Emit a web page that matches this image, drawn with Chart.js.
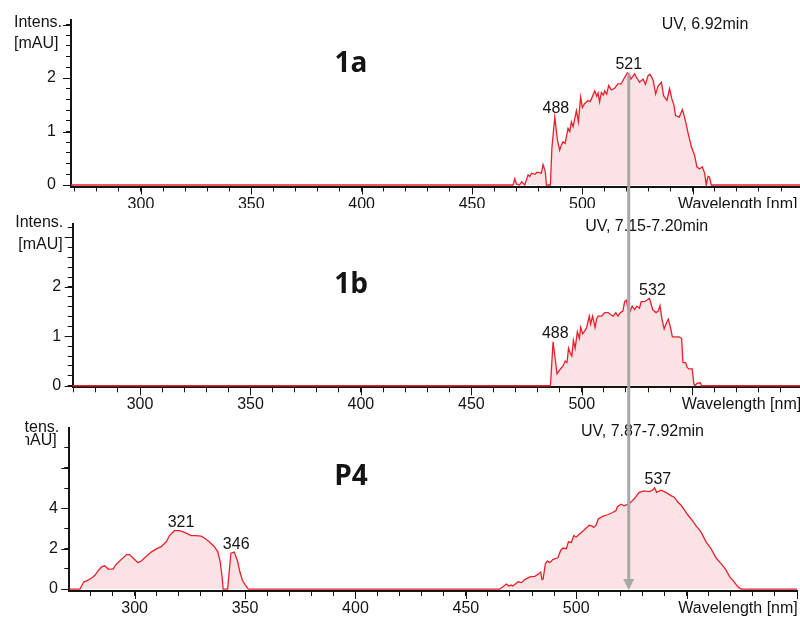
<!DOCTYPE html>
<html><head><meta charset="utf-8">
<script src="https://cdn.jsdelivr.net/npm/chart.js@4.4.0/dist/chart.umd.min.js"></script>
<style>
html,body{margin:0;padding:0;background:#fff;}
#wrap{position:relative;width:800px;height:617px;overflow:hidden;background:#fff;}
canvas{position:absolute;left:0;}
</style></head><body>
<div id="wrap">
<canvas id="c1" width="800" height="220" style="top:0px"></canvas>
<canvas id="c2" width="800" height="222" style="top:208px"></canvas>
<canvas id="c3" width="800" height="205" style="top:412px"></canvas>
</div>
<script>
// ---------- data ----------
const wavelength1a = [268, 468.6, 469.4, 470.1, 471.5, 472.5, 473.9, 475.4, 476.2, 476.9, 478.5, 479.5, 481.4, 482.2, 483.2, 483.7, 485.5, 486.2, 487.5, 488.7, 489.7, 490.5, 491.2, 492.2, 493.5, 494.3, 495.0, 495.8, 497.3, 498.2, 499.2, 500.0, 501.0, 502.5, 503.5, 504.1, 505.6, 506.5, 507.1, 507.8, 508.6, 509.5, 510.1, 511.0, 511.9, 513.1, 514.6, 516.1, 517.6, 519.1, 519.6, 520.4, 521.3, 522.0, 523.7, 524.4, 525.9, 527.5, 528.6, 529.7, 530.6, 531.5, 532.1, 533.2, 534.3, 535.8, 536.8, 538.3, 539.5, 540.6, 541.5, 542.2, 543.9, 545.3, 546.3, 547.8, 549.4, 550.8, 551.9, 553.1, 554.3, 555.4, 556.1, 556.9, 557.6, 558.4, 600];
const intensity1a  = [0, 0, 0.12, 0.02, 0, 0.06, 0, 0.19, 0.16, 0.22, 0.20, 0.24, 0.22, 0.38, 0.25, 0, 0, 0.70, 1.27, 0.84, 0.65, 0.75, 0.81, 0.78, 1.06, 1.00, 1.18, 1.09, 1.39, 1.18, 1.64, 1.45, 1.52, 1.58, 1.56, 1.61, 1.76, 1.66, 1.72, 1.55, 1.73, 1.68, 1.76, 1.70, 1.86, 1.78, 1.81, 1.89, 1.89, 2.01, 2.04, 2.10, 2.07, 1.98, 2.08, 2.02, 1.92, 1.98, 1.88, 2.04, 2.07, 2.01, 1.95, 1.70, 1.85, 1.92, 1.67, 1.58, 1.80, 1.60, 1.49, 1.30, 1.27, 1.41, 1.27, 0.99, 0.71, 0.56, 0.34, 0.30, 0.34, 0.22, 0, 0.16, 0.15, 0, 0];

const wavelength1b = [268, 485.8, 487.0, 488.8, 490.3, 491.5, 492.5, 493.3, 494.0, 494.8, 495.5, 496.2, 497.0, 498.0, 498.9, 499.5, 500.4, 501.5, 502.2, 503.4, 504.0, 504.9, 506.0, 506.7, 507.4, 509.0, 510.4, 511.9, 513.0, 514.2, 515.4, 516.4, 517.5, 518.6, 519.4, 520.2, 521.0, 521.6, 522.8, 523.9, 524.9, 526.1, 526.9, 528.3, 529.4, 530.6, 531.3, 532.1, 533.6, 534.6, 535.4, 536.3, 537.3, 538.1, 539.2, 540.3, 541.0, 542.5, 544.0, 545.2, 545.8, 547.0, 547.7, 548.5, 550.0, 550.7, 551.2, 552.2, 553.7, 554.2, 600];
const intensity1b  = [0, 0, 0.89, 0.24, 0.34, 0.40, 0.50, 0.47, 0.76, 0.66, 0.60, 0.92, 0.76, 1.09, 0.96, 1.18, 1.05, 1.12, 1.18, 1.41, 1.25, 1.41, 1.18, 1.35, 1.41, 1.41, 1.48, 1.48, 1.44, 1.41, 1.48, 1.41, 1.48, 1.51, 1.70, 1.73, 1.55, 1.48, 1.61, 1.54, 1.61, 1.57, 1.70, 1.70, 1.73, 1.77, 1.67, 1.54, 1.48, 1.51, 1.62, 1.35, 1.15, 1.25, 1.35, 1.15, 0.99, 0.99, 0.99, 0.96, 0.47, 0.47, 0.37, 0.34, 0.34, 0.05, 0, 0.05, 0.06, 0, 0];

const wavelengthP4 = [268, 275.2, 277.0, 278.5, 280.5, 282.0, 283.5, 285.0, 286.5, 288.0, 290.2, 291.7, 294.0, 296.3, 297.7, 299.2, 301.5, 303.0, 305.3, 307.5, 309.8, 312.0, 314.3, 315.8, 318.0, 320.3, 322.6, 325.6, 327.8, 330.1, 331.6, 333.8, 336.1, 337.6, 338.7, 339.6, 340.1, 342.1, 343.6, 345.1, 346.6, 347.7, 348.9, 350.4, 351.5, 465.4, 466.1, 468.4, 469.5, 470.6, 471.3, 473.7, 475.2, 476.7, 479.0, 481.3, 483.0, 483.9, 484.5, 485.0, 486.0, 486.9, 488.0, 489.5, 491.7, 492.9, 494.0, 495.5, 496.5, 497.8, 498.9, 499.9, 501.5, 503.7, 505.9, 507.0, 507.9, 509.0, 510.0, 512.0, 514.2, 516.5, 518.0, 518.7, 520.2, 521.7, 524.0, 526.3, 528.5, 530.8, 533.0, 534.6, 535.5, 536.4, 538.4, 540.6, 542.9, 544.4, 546.0, 547.5, 549.0, 550.5, 552.8, 554.3, 556.1, 557.0, 558.8, 561.1, 563.3, 565.6, 567.6, 569.4, 570.9, 573.2, 574.7, 602];
const intensityP4  = [0, 0, 0.36, 0.42, 0.55, 0.68, 0.91, 1.10, 1.15, 0.99, 0.99, 1.23, 1.47, 1.71, 1.71, 1.55, 1.31, 1.39, 1.63, 1.83, 1.99, 2.10, 2.34, 2.65, 2.89, 2.89, 2.81, 2.65, 2.65, 2.62, 2.53, 2.34, 2.10, 1.86, 1.39, 0.60, 0, 0, 1.78, 1.83, 1.39, 0.83, 0.41, 0.16, 0, 0, 0.05, 0.25, 0.15, 0.20, 0.15, 0.36, 0.32, 0.47, 0.60, 0.63, 0.76, 0.84, 0.47, 0.50, 1.23, 1.39, 1.31, 1.47, 1.55, 1.90, 2.03, 2.00, 2.34, 2.31, 2.65, 2.57, 2.73, 2.94, 3.16, 3.13, 3.05, 3.16, 3.47, 3.60, 3.68, 3.79, 3.89, 4.08, 4.20, 4.12, 4.23, 4.47, 4.79, 4.86, 4.83, 4.90, 5.02, 4.79, 4.90, 4.79, 4.63, 4.55, 4.31, 4.15, 3.92, 3.68, 3.36, 3.13, 2.89, 2.73, 2.34, 1.99, 1.55, 1.26, 0.99, 0.63, 0.44, 0.12, 0, 0];

const peakLabels1a = [488, 521];
const peakHeights1a = [1.27, 2.10];
const peakLabels1b = [488, 532];
const peakHeights1b = [0.89, 1.77];
const peakLabelsP4 = [321, 346, 537];
const peakHeightsP4 = [2.89, 1.83, 5.02];

const panelNames = ['1a', '1b', 'P4'];
const uvLabels = ['UV, 6.92min', 'UV, 7.15-7.20min', 'UV, 7.87-7.92min'];
const xTickLabels = [300, 350, 400, 450, 500];
const yTickLabels1a = [0, 1, 2];
const yTickLabels1b = [0, 1, 2];
const yTickLabelsP4 = [0, 2, 4];
const xAxisTitle = 'Wavelength [nm]';
const yAxisTitle = ['Intens.', '[mAU]'];
const arrowWavelength = 521;
const arrowStartIntensity = 2.10;

// ---------- layout / style ----------
const FONT = '"Liberation Sans", Arial, sans-serif';
const TEXT = '#141414';
const AXIS = '#141414';
const LINE = '#e8202c';
const FILL = '#fbe2e4';
const ARROW = '#a8a8a8';

const panels = [
  {canvas:'c1', wl:wavelength1a, it:intensity1a, pkL:peakLabels1a, pkH:peakHeights1a, yLab:yTickLabels1a,
   xMin:268.3, xMax:598.6, yMin:-0.028, yMax:3.093, yStep:0.2, yMajor:1, padTop:18, axisH:33.5, yW:71, yPad:10,
   nameX:351, nameY:71.7, uvX:705, uvY:25, inR:62, inY:23, muR:58.5, muY:43.5, clipX:0, wlX:678},
  {canvas:'c2', wl:wavelength1b, it:intensity1b, pkL:peakLabels1b, pkH:peakHeights1b, yLab:yTickLabels1b,
   xMin:269.5, xMax:598.8, yMin:-0.031, yMax:3.27, yStep:0.2, yMajor:1, padTop:10.3, axisH:42.7, yW:72.7, yPad:6.5,
   nameX:351, nameY:84.7, uvX:646.7, uvY:18.7, inR:63.3, inY:14.7, muR:62.7, muY:36.3, clipX:0, wlX:681.7},
  {canvas:'c3', wl:wavelengthP4, it:intensityP4, pkL:peakLabelsP4, pkH:peakHeightsP4, yLab:yTickLabelsP4,
   xMin:270.4, xMax:600.0, yMin:-0.095, yMax:7.97, yStep:1, yMajor:2, padTop:9.7, axisH:26, yW:69.3, yPad:6.5,
   nameX:351, nameY:73, uvX:642.5, uvY:19.7, inR:59.3, inY:15.3, muR:56.7, muY:29, clipX:25, wlX:678.3}
];

const charts = [];
const near = (a, b) => Math.abs(a - b) < 1e-6;

function overlay(p, idx) {
  return {
    id: 'overlay' + idx,
    beforeDraw(chart) {
      const c = chart.ctx; c.save(); c.fillStyle = '#fff'; c.fillRect(0, 0, chart.width, chart.height); c.restore();
    },
    afterDraw(chart) {
      const ctx = chart.ctx, xs = chart.scales.x, ys = chart.scales.y, ca = chart.chartArea;
      ctx.save();
      // longer major tick marks
      ctx.strokeStyle = AXIS; ctx.lineWidth = 1;
      xs.ticks.forEach(t => {
        if (near(t.value / 50, Math.round(t.value / 50))) {
          const x = Math.round(xs.getPixelForValue(t.value)) + 0.5;
          ctx.beginPath(); ctx.moveTo(x, ca.bottom); ctx.lineTo(x, ca.bottom + 8); ctx.stroke();
        }
      });
      ys.ticks.forEach(t => {
        if (near(t.value / p.yMajor, Math.round(t.value / p.yMajor))) {
          const y = Math.round(ys.getPixelForValue(t.value)) + 0.5;
          ctx.beginPath(); ctx.moveTo(ca.left - 8, y); ctx.lineTo(ca.left, y); ctx.stroke();
        }
      });
      // y axis title (top-left)
      ctx.save();
      ctx.beginPath(); ctx.rect(p.clipX, 0, chart.width, chart.height); ctx.clip();
      ctx.font = '16px ' + FONT; ctx.fillStyle = TEXT; ctx.textAlign = 'right'; ctx.textBaseline = 'middle';
      ctx.fillText(yAxisTitle[0], p.inR, p.inY);
      ctx.fillText(yAxisTitle[1], p.muR, p.muY);
      ctx.restore();
      // x axis title on the tick-label line
      ctx.font = '16px ' + FONT; ctx.fillStyle = TEXT; ctx.textAlign = 'left';
      let ty = ca.bottom + 18, tb = 'middle';
      try {
        const items = xs.getLabelItems();
        const it = items.find(i => i.label !== '' && i.label != null);
        if (it) { ty = it.options.translation[1] + (it.textOffset || 0); tb = it.options.textBaseline; }
      } catch (e) {}
      ctx.textBaseline = tb;
      ctx.fillText(xAxisTitle, p.wlX, ty);
      // panel name
      ctx.font = 'bold 28px "Open Sans", "Noto Sans", sans-serif'; ctx.textAlign = 'center'; ctx.textBaseline = 'alphabetic';
      ctx.fillText(panelNames[idx], p.nameX, p.nameY);
      // UV label
      ctx.font = '16px ' + FONT; ctx.textBaseline = 'middle';
      ctx.fillText(uvLabels[idx], p.uvX, p.uvY);
      // peak labels
      p.pkL.forEach((v, i) => {
        ctx.fillText(String(v), xs.getPixelForValue(v), ys.getPixelForValue(p.pkH[i]) - 8);
      });
      // arrow
      const refScale = idx === 0 ? xs : charts[0].scales.x;
      const ax = refScale.getPixelForValue(arrowWavelength);
      ctx.strokeStyle = ARROW; ctx.fillStyle = ARROW; ctx.lineWidth = 3;
      if (idx === 0) {
        ctx.beginPath(); ctx.moveTo(ax, ys.getPixelForValue(arrowStartIntensity)); ctx.lineTo(ax, chart.height); ctx.stroke();
      } else if (idx === 1) {
        ctx.beginPath(); ctx.moveTo(ax, 0); ctx.lineTo(ax, chart.height); ctx.stroke();
      } else {
        const tip = ys.getPixelForValue(0) + 1;
        ctx.beginPath(); ctx.moveTo(ax, 0); ctx.lineTo(ax, tip - 9); ctx.stroke();
        ctx.beginPath(); ctx.moveTo(ax - 5.5, tip - 11); ctx.lineTo(ax + 5.5, tip - 11); ctx.lineTo(ax, tip); ctx.closePath(); ctx.fill();
      }
      ctx.restore();
    }
  };
}

panels.forEach((p, idx) => {
  const pts = p.wl.map((x, i) => ({x: x, y: p.it[i]}));
  const cfg = {
    type: 'line',
    data: {datasets: [{data: pts, borderColor: LINE, borderWidth: 1.3, backgroundColor: FILL,
      fill: 'origin', pointRadius: 0, tension: 0}]},
    options: {
      responsive: false, animation: false, devicePixelRatio: 1, events: [],
      layout: {padding: {top: p.padTop, left: 0, right: 0, bottom: 0}},
      plugins: {legend: {display: false}, tooltip: {enabled: false}, title: {display: false}},
      scales: {
        x: {type: 'linear', min: p.xMin, max: p.xMax, bounds: 'ticks',
          ticks: {stepSize: 10, maxTicksLimit: 1000, autoSkip: false, maxRotation: 0, minRotation: 0, includeBounds: false,
            padding: 3, color: TEXT, font: {family: FONT, size: 16},
            callback: v => (xTickLabels.some(l => near(l, v)) ? String(Math.round(v)) : '')},
          grid: {drawOnChartArea: false, drawTicks: true, tickLength: 5, color: AXIS, lineWidth: 1},
          border: {display: true, color: AXIS, width: 2},
          afterFit: s => { s.height = p.axisH; }
        },
        y: {type: 'linear', min: p.yMin, max: p.yMax, bounds: 'ticks',
          ticks: {stepSize: p.yStep, maxTicksLimit: 1000, autoSkip: false, includeBounds: false,
            padding: p.yPad, color: TEXT, font: {family: FONT, size: 16},
            callback: v => (p.yLab.some(l => near(l, v)) ? String(Math.round(v)) : '')},
          grid: {drawOnChartArea: false, drawTicks: true, tickLength: 5, color: AXIS, lineWidth: 1},
          border: {display: true, color: AXIS, width: 2},
          afterFit: s => { s.width = p.yW; }
        }
      }
    },
    plugins: [overlay(p, idx)]
  };
  charts.push(new Chart(document.getElementById(p.canvas), cfg));
});
</script>
</body></html>
